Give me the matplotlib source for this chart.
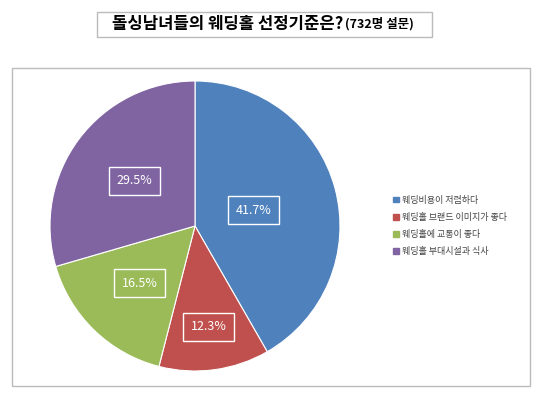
import numpy as np
import matplotlib.pyplot as plt
from matplotlib.patches import Rectangle

plt.rcParams['font.family'] = ['Noto Sans CJK KR', 'DejaVu Sans']

labels = ['웨딩비용이 저렴하다', '웨딩홀 브랜드 이미지가 좋다', '웨딩홀에 교통이 좋다', '웨딩홀 부대시설과 식사']
values = [41.7, 12.3, 16.5, 29.5]
colors = ['#4F81BD', '#C0504D', '#9BBB59', '#8064A2']
label_r = [0.42, 0.70, 0.55, 0.52]

W, H = 540, 401
fig = plt.figure(figsize=(W / 100, H / 100), dpi=100)

# outer chart frame and title box
fig.patches.append(Rectangle((12 / W, 1 - 386 / H), 518 / W, 318 / H, transform=fig.transFigure,
                             fill=False, edgecolor='#BBBBBB', linewidth=1))
fig.patches.append(Rectangle((97 / W, 1 - 37 / H), 335 / W, 25 / H, transform=fig.transFigure,
                             fill=False, edgecolor='#BBBBBB', linewidth=1))
fig.text(112 / W, 1 - 24 / H, '돌싱남녀들의 웨딩홀 선정기준은?', fontsize=12, fontweight='bold', va='center')
fig.text(345 / W, 1 - 24 / H, '(732명 설문)', fontsize=9, fontweight='bold', va='center')

ax = fig.add_axes([50 / W, 1 - 371 / H, 290 / W, 290 / H])
wedges, _ = ax.pie(values, colors=colors, startangle=90, counterclock=False,
                   wedgeprops=dict(edgecolor='white', linewidth=0.8))
ax.set_xlim(-1, 1)
ax.set_ylim(-1, 1)
ax.set_aspect('equal')

for w, v, r in zip(wedges, values, label_r):
    ang = np.deg2rad((w.theta1 + w.theta2) / 2)
    ax.text(r * np.cos(ang), r * np.sin(ang), f'{v}%', color='white', fontsize=9,
            ha='center', va='center',
            bbox=dict(boxstyle='square,pad=0.6', facecolor='none', edgecolor='white', linewidth=1))

handles = [Rectangle((0, 0), 1, 1, color=c) for c in colors]
fig.legend(handles, labels, loc='center left', bbox_to_anchor=(385 / W, 1 - 226 / H),
           frameon=False, fontsize=6.5, handlelength=0.6, handleheight=0.6,
           handletextpad=0.4, labelspacing=0.9, labelcolor='#444444')

fig.savefig('out.png', dpi=100)
